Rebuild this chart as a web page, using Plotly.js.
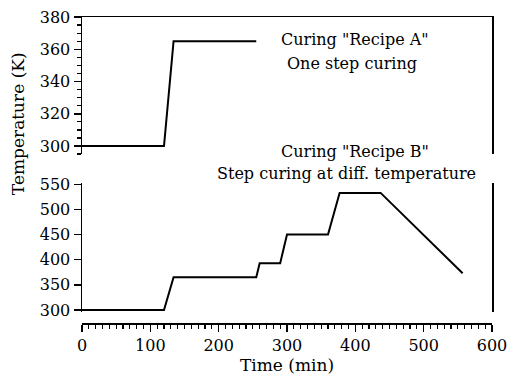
<!DOCTYPE html>
<html>
<head>
<meta charset="utf-8">
<script src="https://cdn.plot.ly/plotly-3.0.1.min.js"></script>
<style>
  html, body { margin: 0; padding: 0; background: #fff; }
  #chart { width: 508px; height: 383px; }
</style>
</head>
<body>
<div id="chart"></div>
<script>
// Recipe A: one step curing (time in min, temperature in K)
const recipeATime = [0, 120, 134, 255];
const recipeATemp = [300, 300, 365, 365];

// Recipe B: step curing at different temperatures, then cooling
const recipeBTime = [0, 120, 134, 255, 260, 290, 300, 360, 377, 437, 557];
const recipeBTemp = [300, 300, 365, 365, 393, 393, 450, 450, 533, 533, 373];

const labelsA = ['Curing "Recipe A"', 'One step curing'];
const labelsB = ['Curing "Recipe B"', 'Step curing at diff. temperature'];

const FONT = 'DejaVu Serif';
const TITLE_SIZE = 17;
const NOTE_SIZE = 16;
const TICK_SIZE = 16;
const INK = '#000';

const traces = [
  {
    x: recipeATime, y: recipeATemp, xaxis: 'x2', yaxis: 'y',
    mode: 'lines', line: { color: INK, width: 2 }, hoverinfo: 'skip'
  },
  {
    x: recipeBTime, y: recipeBTemp, xaxis: 'x', yaxis: 'y2',
    mode: 'lines', line: { color: INK, width: 2 }, hoverinfo: 'skip'
  }
];

const tickFont = { family: FONT, size: TICK_SIZE, color: INK };
const titleFont = { family: FONT, size: TITLE_SIZE, color: INK };
const noteFont = { family: FONT, size: NOTE_SIZE, color: INK };

const textAnn = (text, x, y) => ({
  text, x, y, xref: 'paper', yref: 'paper',
  xanchor: 'center', yanchor: 'middle', showarrow: false,
  font: noteFont
});

const layout = {
  width: 508, height: 383,
  margin: { l: 82, r: 16, t: 17, b: 60 },
  paper_bgcolor: '#fff', plot_bgcolor: '#fff',
  showlegend: false,
  font: titleFont,
  // shared time axis, drawn just below the lower panel
  xaxis: {
    range: [0, 600], anchor: 'free', position: 0,
    dtick: 100, tick0: 0,
    ticks: 'outside', ticklen: 7, tickwidth: 1.5, tickcolor: INK,
    minor: { dtick: 10, ticks: 'outside', ticklen: 4, tickwidth: 1.2, tickcolor: INK, showgrid: false },
    showline: true, linecolor: INK, linewidth: 1.5,
    showgrid: false, zeroline: false,
    tickfont: tickFont,
    title: { text: 'Time (min)', font: titleFont, standoff: 2 }
  },
  // frame line along the top of the upper panel
  xaxis2: {
    matches: 'x', anchor: 'y', side: 'top',
    showline: true, linecolor: INK, linewidth: 1.5,
    showticklabels: false, ticks: '', showgrid: false, zeroline: false
  },
  yaxis: {
    domain: [0.552, 1], range: [295, 380], anchor: 'x2',
    dtick: 20, tick0: 0,
    ticks: 'outside', ticklen: 7, tickwidth: 1.5, tickcolor: INK,
    minor: { dtick: 5, ticks: 'outside', ticklen: 4, tickwidth: 1.2, tickcolor: INK, showgrid: false },
    showline: true, mirror: true, linecolor: INK, linewidth: 1.5,
    showgrid: false, zeroline: false,
    tickfont: tickFont
  },
  yaxis2: {
    domain: [0.036, 0.458], range: [296, 553], anchor: 'x',
    dtick: 50, tick0: 0,
    ticks: 'outside', ticklen: 7, tickwidth: 1.5, tickcolor: INK,
    showline: true, mirror: true, linecolor: INK, linewidth: 1.5,
    showgrid: false, zeroline: false,
    tickfont: tickFont
  },
  annotations: [
    {
      text: 'Temperature (K)', x: -0.156, y: 0.65, xref: 'paper', yref: 'paper',
      xanchor: 'center', yanchor: 'middle', textangle: -90, showarrow: false,
      font: titleFont
    },
    textAnn(labelsA[0], 0.665, 0.925),
    textAnn(labelsA[1], 0.658, 0.849),
    textAnn(labelsB[0], 0.667, 0.560),
    textAnn(labelsB[1], 0.645, 0.489)
  ]
};

Plotly.newPlot('chart', traces, layout, { staticPlot: true, displayModeBar: false });
</script>
</body>
</html>
